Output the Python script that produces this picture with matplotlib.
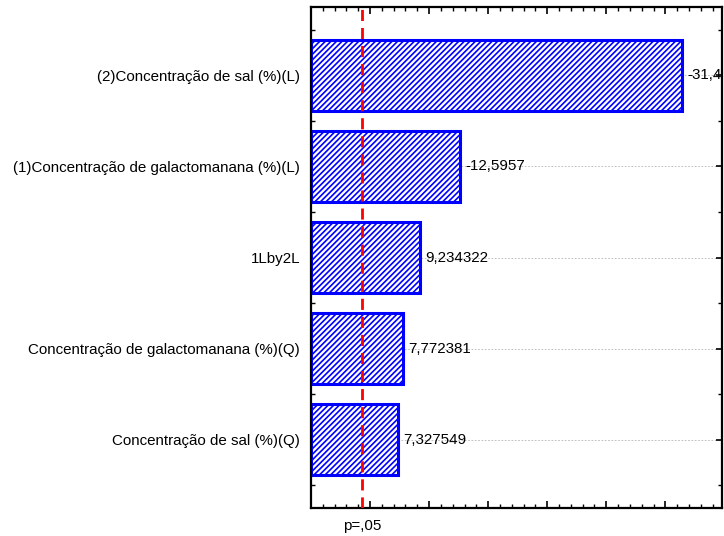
import matplotlib
matplotlib.use("Agg")
import matplotlib.pyplot as plt
import matplotlib.transforms as mtransforms
import numpy as np

plt.rcParams['font.family'] = ['Liberation Sans', 'DejaVu Sans']
plt.rcParams['hatch.linewidth'] = 1.2

# Data
factors = [
    "(2)Concentração de sal (%)(L)",
    "(1)Concentração de galactomanana (%)(L)",
    "1Lby2L",
    "Concentração de galactomanana (%)(Q)",
    "Concentração de sal (%)(Q)",
]
effects = [-31.4016, -12.5957, 9.234322, 7.772381, 7.327549]
p_critical = 4.303
p_label = "p=,05"
x_max = 34.8


def fmt(v):
    s = f"{v:.10f}"[:8]
    return s.replace(".", ",")


fig = plt.figure(figsize=(7.24, 5.36), dpi=100)
ax = fig.add_axes([311 / 724, 1 - 508 / 536, (722 - 311) / 724, (508 - 7) / 536])

ypos = np.arange(len(factors))
vals = np.abs(effects)

# grid lines behind bars
for y in ypos:
    ax.axhline(y, color='#b4b4b4', lw=0.6, ls=(0, (2, 2)), zorder=0)

ax.barh(ypos, vals, height=0.78, color='white', edgecolor='#0000ff',
        hatch='//////', linewidth=2.2, zorder=2)

for y, v, e in zip(ypos, vals, effects):
    ax.text(v + 0.45, y, fmt(e), ha='left', va='center', fontsize=10.9,
            color='black', clip_on=True, zorder=3)

ax.axvline(p_critical, color='#ff0000', lw=2.0, ls=(0, (4, 2.5)), zorder=4)

ax.set_xlim(0, x_max)
ax.set_ylim(len(factors) - 0.25, -0.75)

ax.set_yticks(ypos)
ax.set_yticklabels(factors, fontsize=10.9)
ax.set_yticks(np.arange(-0.5, len(factors), 0.5), minor=True)
ax.set_xticks(np.arange(5, 35, 5))
ax.set_xticklabels([])
ax.set_xticks(np.arange(1, 35, 1), minor=True)

ax.tick_params(axis='y', which='major', direction='in', length=4, width=1.2,
               left=True, right=True, pad=8)
ax.tick_params(axis='y', which='minor', direction='in', length=3, width=1.0,
               left=True, right=True)
ax.tick_params(axis='x', which='major', direction='in', length=5, width=1.2,
               top=True, bottom=True)
ax.tick_params(axis='x', which='minor', direction='in', length=3, width=1.0,
               top=True, bottom=True)

for s in ax.spines.values():
    s.set_linewidth(1.6)
    s.set_color('black')

trans = mtransforms.blended_transform_factory(ax.transData, ax.transAxes)
ax.annotate(p_label, xy=(p_critical, 0), xycoords=trans, xytext=(0, -18),
            textcoords='offset pixels', ha='center', va='center', fontsize=10.9)

fig.savefig("out.png", dpi=100)
